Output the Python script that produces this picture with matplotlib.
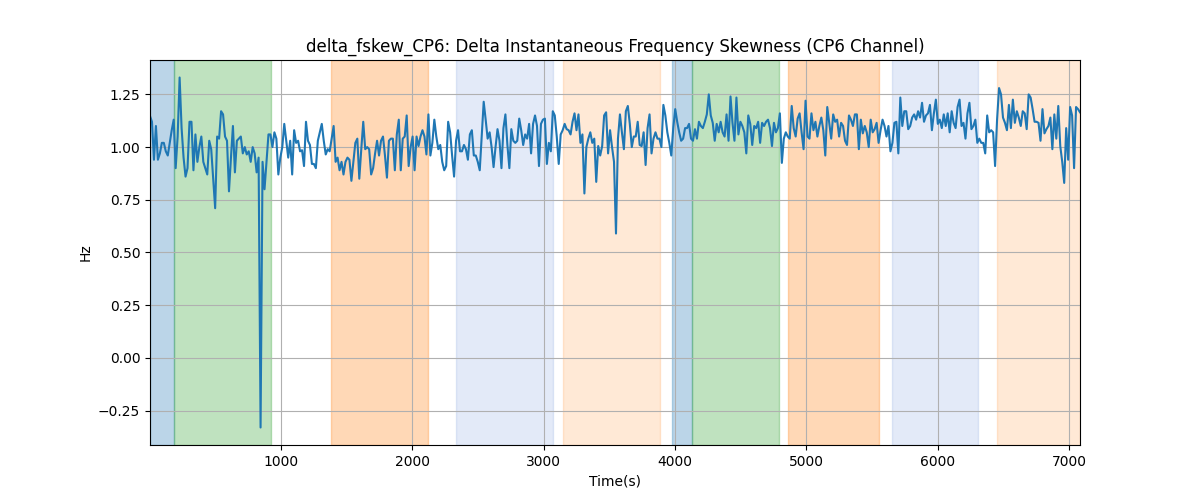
import numpy as np
import matplotlib
matplotlib.use('Agg')
import matplotlib.pyplot as plt

# skewness samples, evenly spaced in time
skew_values = [
    1.147, 1.12, 0.94, 1.10, 0.94, 0.97, 1.02, 1.02, 0.98, 0.96, 1.02, 1.08, 1.13, 0.90, 1.05, 1.33,
    1.09, 0.95, 0.86, 0.90, 1.12, 1.12, 0.89, 1.06, 0.93, 1.00, 1.05, 0.93, 0.90, 0.87, 1.03, 0.99,
    0.85, 0.71, 1.05, 1.04, 1.17, 1.155, 1.05, 1.03, 0.79, 0.95, 1.10, 0.88, 1.03, 1.04, 1.05, 0.97,
    1.0, 0.965, 0.98, 0.93, 1.0, 0.97, 0.88, 0.95, -0.33, 0.93, 0.80, 0.93, 1.06, 1.06, 1.0,
    # 1000 - 1900
    1.07, 1.04, 0.87, 0.95, 1.0, 1.11, 1.03, 0.95, 1.03, 0.87, 1.08, 1.02, 1.03, 0.98, 0.985, 0.91,
    1.12, 1.03, 1.01, 0.92, 0.92, 0.90, 1.03, 1.07, 1.11, 1.03, 0.965, 0.99, 0.98, 1.04, 1.10, 0.93,
    0.95, 0.89, 0.93, 0.87, 0.93, 0.95, 0.94, 0.84, 0.93, 1.02, 1.04, 0.85, 0.99, 1.12, 0.99, 1.0,
    0.99, 0.87, 0.90, 0.97, 1.03, 0.96, 1.03, 1.05, 0.96, 0.855, 1.03, 1.04,
    # 1900 - 2800
    1.04, 0.89, 1.06, 1.13, 0.89, 1.04, 1.05, 1.15, 0.91, 1.0, 1.05, 0.89, 1.05, 1.005, 1.05, 1.08,
    1.05, 0.965, 1.155, 0.96, 1.02, 1.13, 1.05, 0.99, 1.01, 0.93, 0.89, 0.91, 1.12, 1.07, 0.96, 0.86,
    1.03, 1.08, 0.98, 0.98, 1.01, 0.99, 0.94, 1.06, 1.08, 0.96, 0.96, 0.93, 0.89, 1.05, 1.215, 1.13,
    1.04, 1.07, 1.0, 0.905, 1.0, 1.085, 1.03, 0.90, 1.09, 1.155, 1.01, 0.90, 1.085, 1.03,
    # 2800 - 3750
    1.02, 1.03, 1.135, 1.08, 1.01, 1.06, 1.04, 1.11, 0.97, 1.11, 1.15, 1.10, 0.91, 1.11, 1.13, 1.135,
    0.92, 1.02, 0.98, 1.17, 1.15, 1.05, 0.92, 1.06, 1.08, 1.11, 1.085, 1.08, 1.06, 1.12, 1.16, 1.08,
    1.155, 1.02, 1.06, 0.78, 1.0, 1.04, 1.07, 1.02, 1.04, 0.835, 1.005, 0.96, 1.005, 1.15, 1.165, 0.97,
    1.08, 1.0, 0.93, 0.59, 1.04, 1.155, 1.07, 0.99, 1.17, 1.195, 1.11, 1.0, 1.05,
    # 3750 - 4650
    1.05, 1.12, 1.01, 1.005, 1.07, 0.915, 1.09, 1.155, 0.97, 1.04, 1.07, 1.04, 1.04, 1.0, 1.20, 1.15,
    1.07, 1.02, 0.96, 1.09, 1.18, 1.12, 1.07, 1.03, 1.04, 1.09, 1.09, 1.11, 1.04, 1.03, 1.085, 1.04,
    1.12, 1.10, 1.09, 1.12, 1.155, 1.25, 1.15, 1.115, 1.03, 1.11, 1.07, 1.12, 1.07, 1.05, 1.155, 1.03,
    1.24, 1.115, 1.03, 1.235, 1.06, 1.12, 1.10, 1.07, 0.97, 1.15, 1.11, 1.01, 1.10,
    # 4650 - 5600
    1.09, 1.12, 1.02, 1.115, 1.10, 1.12, 1.13, 1.09, 1.005, 1.115, 1.07, 1.09, 1.16, 0.925, 1.04, 1.07,
    1.05, 1.04, 1.195, 1.09, 1.05, 1.135, 1.16, 1.07, 0.99, 1.22, 1.05, 1.04, 1.16, 1.08, 1.12, 1.05,
    1.10, 1.14, 1.08, 0.96, 1.19, 1.115, 1.04, 1.155, 1.12, 1.13, 1.05, 1.115, 1.10, 1.03, 1.01, 1.15,
    1.13, 1.10, 1.155, 1.155, 0.99, 1.13, 1.065, 1.10, 1.07, 1.0, 1.13, 1.07, 1.085,
    # 5600 - 6550
    1.115, 1.02, 1.08, 1.13, 1.10, 1.05, 1.10, 0.98, 1.02, 1.115, 1.12, 0.97, 1.235, 1.10, 1.17, 1.17,
    1.085, 1.10, 1.14, 1.155, 1.13, 1.17, 1.14, 1.21, 1.12, 1.15, 1.16, 1.20, 1.08, 1.16, 1.225, 1.11,
    1.13, 1.09, 1.155, 1.10, 1.16, 1.07, 1.17, 1.115, 1.09, 1.19, 1.225, 1.10, 1.115, 1.04, 1.16, 1.21,
    1.085, 1.10, 1.13, 1.02, 1.04, 1.02, 1.02, 0.97, 1.15, 1.07, 1.08, 1.07, 0.91,
    # 6550 - end
    1.13, 1.28, 1.25, 1.14, 1.115, 1.08, 1.20, 1.09, 1.225, 1.115, 1.17, 1.14, 1.10, 1.17, 1.16, 1.085,
    1.25, 1.235, 1.18, 1.12, 1.12, 1.115, 1.03, 1.18, 1.065, 1.085, 1.10, 1.14, 0.99, 1.155, 1.04, 1.195,
    1.005, 0.93, 0.83, 1.09, 0.94, 1.19, 1.15, 0.90, 1.19, 1.18, 1.165,
]
t_start = 6
t_end = 7082

# shaded intervals (seconds)
span_starts = [6, 190, 1380, 2334, 3146, 3980, 4132, 4862, 5651, 6450]
span_ends = [190, 924, 2118, 3074, 3886, 4132, 4789, 5550, 6303, 7082]
span_colors = ['C0', 'C2', 'C1', '#4878d0', 'C1', 'C0', 'C2', 'C1', '#4878d0', 'C1']
span_alphas = [0.3, 0.3, 0.3, 0.15, 0.17, 0.3, 0.3, 0.3, 0.15, 0.17]

time_s = np.linspace(t_start, t_end, len(skew_values))

fig, ax = plt.subplots(figsize=(12, 5), dpi=100)
for s, e, c, a in zip(span_starts, span_ends, span_colors, span_alphas):
    ax.axvspan(s, e, color=c, alpha=a)
ax.plot(time_s, skew_values, color='C0', linewidth=1.5)
ax.set_xlim(t_start, t_end)
ax.grid(True)
ax.set_title('delta_fskew_CP6: Delta Instantaneous Frequency Skewness (CP6 Channel)')
ax.set_xlabel('Time(s)')
ax.set_ylabel('Hz')
fig.savefig('out.png')
